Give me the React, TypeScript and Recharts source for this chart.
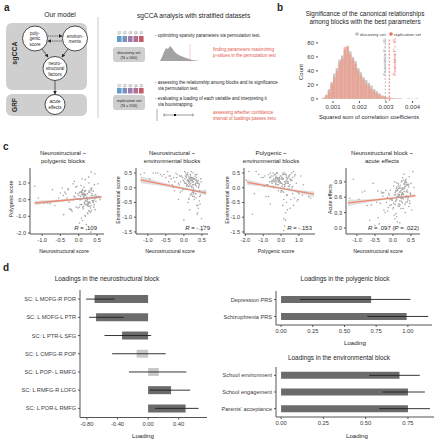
import React from "react";
import {
  Area,
  Bar,
  BarChart,
  Cell,
  ComposedChart,
  ErrorBar,
  Line,
  ReferenceLine,
  Scatter,
  XAxis,
  YAxis,
} from "recharts";

const FONT = "'Liberation Sans', Arial, Helvetica, sans-serif";
const INK = "#262626";
const AXIS = "#555555";
const SALMON = "#f0866b";
const RED_TXT = "#e2584a";
const DARK_BAR = "#6b6b6b";
const LIGHT_BAR = "#c8c8c8";

// ---- b: permutation histogram (bin centres, counts per set)
const binCenters = [
  0.00065, 0.00075, 0.00085, 0.00095, 0.00105, 0.00115, 0.00125, 0.00135, 0.00145, 0.00155,
  0.00165, 0.00175, 0.00185, 0.00195, 0.00205, 0.00215, 0.00225, 0.00235, 0.00245, 0.00255,
  0.00265, 0.00275, 0.00285, 0.00295, 0.00305, 0.00315, 0.00325, 0.00335, 0.00345, 0.00355,
  0.00365, 0.00375, 0.00385, 0.00395, 0.00405, 0.00415,
];
const discoveryCounts = [
  2, 6, 14, 24, 36, 44, 56, 62, 70, 74, 68, 60, 54, 44, 38, 31, 27, 23, 19, 14, 11, 8, 5, 4, 2, 1,
  1, 1, 0, 1, 0, 0, 0, 0, 0, 0,
];
const replicationCounts = [
  1, 5, 11, 21, 31, 40, 52, 58, 74, 76, 64, 57, 50, 41, 34, 28, 22, 19, 14, 11, 8, 6, 4, 3, 2, 2,
  1, 0, 1, 0, 0, 0, 1, 0, 0, 1,
];
const histXTicks = [0.001, 0.002, 0.003, 0.004];
const histYTicks = [0, 20, 40, 60, 80];
const permThresholds = [0.00297, 0.00312];

// ---- c: canonical scores (subsample read from the clouds)
const neuroScore = [
  0.12, 0.25, -0.05, 0.33, 0.41, 0.18, -0.22, 0.05, 0.29, 0.47,
  -0.41, 0.09, 0.22, 0.36, -0.13, 0.02, 0.15, 0.52, -0.65, 0.27,
  0.38, 0.07, -0.3, 0.19, 0.44, 0.31, -0.02, 0.11, -0.85, 0.24,
  0.35, 0.03, 0.49, -0.18, 0.16, 0.28, -0.5, 0.21, 0.4, 0.06,
  0.13, -1.1, 0.34, 0.26, -0.08, 0.55, 0.17, -0.35, 0.1, 0.3,
  0.43, -0.25, 0.2, 0.04, 0.37, -0.72, 0.14, 0.23, 0.46, -0.12,
  0.32, 0.08, -0.95, 0.39, 0.01, 0.27, -0.45, 0.18, 0.5, 0.12,
  -0.6, 0.25, 0.35, -0.15, 0.42, 0.05, 0.21, -1.2, 0.3, 0.16,
  -0.28, 0.45, 0.09, 0.58, -0.38, 0.24, 0.14, -0.78, 0.33, 0.0,
  0.21, 0.08, 0.36, 0.15, 0.27, -0.04, 0.32, 0.19, 0.41, 0.11,
  0.26, -0.1, 0.3, 0.17, 0.06, 0.38, 0.23, -0.2, 0.13, 0.34,
  0.02, 0.28, 0.44, 0.1, -0.07, 0.22, 0.37, 0.15, 0.29, -0.32,
  0.18, 0.4, 0.07, 0.25, -0.15, 0.33, 0.12, 0.48, 0.2, -0.02,
  0.31, 0.16, -0.55, 0.26, 0.09, 0.39, 0.14, 0.35, -0.09, 0.22,
  0.04, 0.43, 0.19, -0.26, 0.28, 0.11, 0.36, 0.24, -0.42, 0.17,
];
const polyScore = [
  0.35, -0.2, 0.8, 0.15, -0.45, 1.2, -0.6, 0.05, 0.55, -0.1,
  -0.9, 0.4, -0.3, 0.7, 0.2, -1.4, 0.1, 0.95, -0.35, -0.65,
  0.25, -1.1, 0.6, -0.05, 1.55, 0.45, -0.5, 0.3, -0.2, -0.8,
  0.65, 0.0, 0.15, -0.7, -0.25, 1.0, 0.4, -1.8, 0.5, 0.85,
  -0.4, 0.1, 1.65, -0.15, 0.75, 0.2, -0.95, 0.35, -1.25, 0.05,
  0.9, -0.55, -0.3, 0.45, -1.6, 0.6, 0.25, -0.1, 0.3, 1.1,
  -0.75, 0.5, -0.2, 0.1, -0.45, 1.35, 0.7, -1.0, 0.15, 0.4,
  -0.05, -0.85, 0.55, 0.95, -0.3, 0.2, -1.5, 0.8, -0.15, 0.35,
  0.65, -0.6, 1.25, 0.0, 0.45, -0.35, 0.75, -0.25, -1.95, 0.25,
  0.1, -0.3, 0.25, -0.15, 0.45, 0.05, -0.5, 0.3, -0.05, 0.6,
  -0.25, 0.15, -0.4, 0.5, 0.0, -0.1, 0.35, -0.6, 0.2, -0.35,
  0.4, -0.2, 0.05, 0.55, -0.45, 0.15, -0.05, 0.3, -0.7, 0.1,
  0.25, -0.15, 0.45, -0.3, 0.0, 0.65, -0.55, 0.2, -0.1, 0.35,
  -0.2, 0.5, 0.1, -0.4, 0.3, -0.05, 0.15, -0.65, 0.4, 0.05,
  -0.3, 0.2, 0.55, -0.15, 0.1, -0.45, 0.35, 0.0, 0.25, -0.25,
];
const envScore = [
  0.2, 0.35, -0.1, 0.45, 0.05, -0.25, 0.5, 0.15, -0.4, 0.3,
  0.4, -0.05, 0.25, -0.6, 0.1, 0.55, 0.3, -0.15, 0.45, 0.2,
  -0.85, 0.35, 0.0, 0.15, -0.3, 0.4, 0.25, -0.5, 0.5, 0.1,
  0.05, 0.3, -1.05, 0.45, 0.2, -0.2, 0.35, 0.55, -0.7, 0.15,
  0.25, 0.5, -0.35, 0.1, 0.4, -1.3, 0.05, 0.3, 0.45, -0.1,
  -0.45, 0.2, 0.35, -0.05, -0.9, 0.5, 0.15, 0.25, -0.25, 0.4,
  0.1, 0.45, 0.3, -0.6, 0.2, -0.15, 0.55, 0.35, -1.45, 0.05,
  0.4, -0.3, 0.25, -0.4, 0.15, 0.5, -0.2, 0.45, 0.3, -0.75,
  0.35, -0.55, 0.1, -0.1, 0.4, 0.2, -0.35, 0.5, 0.25, -1.1,
  0.3, 0.1, 0.45, 0.2, -0.05, 0.35, 0.15, 0.4, 0.0, 0.25,
  0.5, -0.15, 0.3, 0.1, 0.4, 0.2, -0.25, 0.35, 0.05, 0.45,
  0.15, 0.3, -0.1, 0.25, 0.4, 0.0, 0.2, 0.35, -0.3, 0.1,
  0.45, 0.25, 0.05, 0.3, 0.15, -0.2, 0.4, 0.2, 0.35, -0.05,
  0.1, 0.3, 0.45, 0.0, 0.25, 0.15, -0.4, 0.35, 0.2, 0.05,
  0.4, 0.1, 0.25, -0.1, 0.3, 0.5, 0.15, -0.15, 0.2, 0.35,
];
const acuteScore = [
  0.62, 0.78, 0.45, 0.85, 0.55, 0.7, 0.3, 0.9, 0.65, 0.48,
  0.2, 0.72, 0.58, 0.95, 0.4, 0.82, 0.6, 0.35, 0.15, 0.75,
  0.88, 0.52, 0.68, 0.1, 0.42, 1.05, 0.57, 0.8, 0.7, 0.63,
  0.92, 0.25, 0.66, 0.5, 0.77, 0.38, 0.05, 0.6, 0.84, 0.46,
  0.73, 0.95, 0.3, 0.69, 0.55, 1.1, 0.64, 0.48, 0.22, 0.86,
  0.59, 0.35, 0.78, 0.02, 0.71, 0.44, 0.61, 0.9, 0.53, 0.67,
  0.8, 0.28, 0.56, 0.74, 0.4, 0.98, 0.5, 0.65, 0.87, 0.12,
  0.45, 0.76, 0.6, 0.33, 0.83, 0.18, 0.7, 0.58, 0.93, 0.47,
  0.62, 1.0, 0.54, 0.79, 0.08, 0.66, 0.43, 0.72, 0.88, 0.37,
  0.6, 0.72, 0.5, 0.82, 0.66, 0.55, 0.78, 0.45, 0.7, 0.88,
  0.58, 0.64, 0.76, 0.42, 0.69, 0.84, 0.52, 0.73, 0.61, 0.9,
  0.48, 0.67, 0.8, 0.56, 0.74, 0.38, 0.63, 0.86, 0.57, 0.7,
  0.79, 0.51, 0.65, 0.92, 0.6, 0.46, 0.75, 0.68, 0.83, 0.54,
  0.71, 0.62, 0.87, 0.49, 0.77, 0.59, 0.66, 0.81, 0.44, 0.73,
  0.64, 0.85, 0.53, 0.69, 0.78, 0.6, 0.9, 0.57, 0.72, 0.65,
];

// regression fits and confidence bands
const fitX1 = [-1.2, 0.62];
const fitY1 = [-0.2, 0.16];
const bandX1 = [-1.2, -0.3, 0.3, 0.62];
const bandLo1 = [-0.33, -0.08, 0.05, 0.08];
const bandHi1 = [-0.07, 0.04, 0.15, 0.24];

const fitX2 = [-1.2, 0.62];
const fitY2 = [0.27, -0.18];
const bandX2 = [-1.2, -0.3, 0.3, 0.62];
const bandLo2 = [0.15, 0.0, -0.14, -0.26];
const bandHi2 = [0.39, 0.09, -0.06, -0.1];

const fitX3 = [-1.9, 1.85];
const fitY3 = [0.18, -0.22];
const bandX3 = [-1.9, -0.5, 0.5, 1.85];
const bandLo3 = [0.09, -0.01, -0.11, -0.31];
const bandHi3 = [0.27, 0.07, -0.04, -0.13];

const fitX4 = [-1.25, 0.62];
const fitY4 = [0.49, 0.63];
const bandX4 = [-1.25, -0.3, 0.3, 0.62];
const bandLo4 = [0.43, 0.54, 0.59, 0.6];
const bandHi4 = [0.55, 0.58, 0.625, 0.66];

// ---- d: loadings with bootstrap intervals
const neuroNames = [
  "SC: L MOFG-R POR",
  "SC: L MOFG-L PTR",
  "SC: L PTR-L SFG",
  "SC: L CMFG-R POP",
  "SC: L POP- L RMFG",
  "SC: L RMFG-R LOFG",
  "SC: L POR-L RMFG",
];
const neuroLoad = [-0.7, -0.68, -0.34, -0.15, 0.14, 0.3, 0.49];
const neuroLo = [-0.81, -0.77, -0.57, -0.47, -0.25, 0.02, 0.09];
const neuroHi = [-0.44, -0.32, 0.04, 0.23, 0.5, 0.55, 0.66];
const neuroSig = [true, true, true, false, false, true, true];

const polyNames = ["Depression PRS", "Schizophrenia PRS"];
const polyLoad = [0.71, 0.99];
const polyLo = [0.15, 0.68];
const polyHi = [1.02, 1.16];

const envNames = ["School environment", "School engagement", "Parents' acceptance"];
const envLoad = [0.7, 0.75, 0.75];
const envLo = [0.52, 0.6, 0.58];
const envHi = [0.82, 0.85, 0.88];

const qLabels = ["Q1", "Q2", "Q3", "Q4", "Q5"];
const qColors = ["#5f9fc8", "#7f8fbd", "#9b80ad", "#ad6f92", "#c55b69"];

const tickStyle = { fontSize: 5.6, fill: "#3a3a3a", fontFamily: FONT };

type ScatterProps = {
  left: number;
  top: number;
  w: number;
  h: number;
  xDomain: [number, number];
  yDomain: [number, number];
  xTicks: number[];
  yTicks: number[];
  xs: number[];
  ys: number[];
  fitX: number[];
  fitY: number[];
  bandX: number[];
  bandLo: number[];
  bandHi: number[];
};

function ScorePlot(p: ScatterProps) {
  const yw = 16;
  const xh = 12;
  const mt = 2;
  const mr = 3;
  const pts = p.xs.map((x, i) => ({ x, y: p.ys[i] }));
  const fit = p.fitX.map((x, i) => ({ x, fit: p.fitY[i] }));
  const band = p.bandX.map((x, i) => ({ x, band: [p.bandLo[i], p.bandHi[i]] }));
  return (
    <div style={{ position: "absolute", left: p.left - yw, top: p.top - mt }}>
      <ComposedChart
        width={yw + p.w + mr}
        height={mt + p.h + xh}
        margin={{ top: mt, right: mr, bottom: 0, left: 0 }}
      >
        <XAxis
          type="number"
          dataKey="x"
          domain={p.xDomain}
          ticks={p.xTicks}
          allowDataOverflow
          interval={0}
          height={xh}
          tickSize={2}
          stroke={AXIS}
          tick={tickStyle}
          tickFormatter={(v: number) => v.toFixed(1)}
        />
        <YAxis
          type="number"
          dataKey="y"
          domain={p.yDomain}
          ticks={p.yTicks}
          allowDataOverflow
          interval={0}
          width={yw}
          tickSize={2}
          stroke={AXIS}
          tick={tickStyle}
          tickFormatter={(v: number) => v.toFixed(1)}
        />
        <Scatter
          data={pts}
          isAnimationActive={false}
          shape={(s: any) => <circle cx={s.cx} cy={s.cy} r={0.8} fill="#a6a6a6" />}
        />
        <Area
          data={band}
          dataKey="band"
          type="monotone"
          fill="#cccccc"
          fillOpacity={0.6}
          stroke="none"
          isAnimationActive={false}
        />
        <Line
          data={fit}
          dataKey="fit"
          stroke={SALMON}
          strokeWidth={1.3}
          dot={false}
          isAnimationActive={false}
        />
      </ComposedChart>
    </div>
  );
}

type LoadProps = {
  left: number;
  top: number;
  w: number;
  h: number;
  yw: number;
  names: string[];
  load: number[];
  lo: number[];
  hi: number[];
  sig: boolean[];
  xDomain: [number, number];
  xTicks: number[];
  gap: string;
};

// category label without Recharts' word wrapping
function CatTick(props: any) {
  const { x, y, payload } = props;
  return (
    <text
      x={x}
      y={y}
      textAnchor="end"
      dominantBaseline="central"
      fontSize={5.6}
      fill="#3a3a3a"
      fontFamily={FONT}
    >
      {payload.value}
    </text>
  );
}

function LoadingPlot(p: LoadProps) {
  const xh = 11;
  const mt = 2;
  const mr = 3;
  const rows = p.names.map((name, i) => ({
    name,
    value: p.load[i],
    err: [p.load[i] - p.lo[i], p.hi[i] - p.load[i]],
  }));
  return (
    <div style={{ position: "absolute", left: p.left - p.yw, top: p.top - mt }}>
      <BarChart
        layout="vertical"
        data={rows}
        width={p.yw + p.w + mr}
        height={mt + p.h + xh}
        margin={{ top: mt, right: mr, bottom: 0, left: 0 }}
        barCategoryGap={p.gap}
      >
        <XAxis
          type="number"
          domain={p.xDomain}
          ticks={p.xTicks}
          allowDataOverflow
          interval={0}
          height={xh}
          tickSize={2}
          stroke={AXIS}
          tick={{ ...tickStyle, fontSize: 5.8 }}
          tickFormatter={(v: number) => v.toFixed(2)}
        />
        <YAxis
          type="category"
          dataKey="name"
          width={p.yw}
          interval={0}
          tickSize={2}
          stroke={AXIS}
          tick={<CatTick />}
        />
        <Bar dataKey="value" isAnimationActive={false}>
          {rows.map((r, i) => (
            <Cell key={r.name} fill={p.sig[i] ? DARK_BAR : LIGHT_BAR} />
          ))}
          <ErrorBar dataKey="err" direction="x" width={0} stroke="#1f1f1f" strokeWidth={0.9} />
        </Bar>
      </BarChart>
    </div>
  );
}

function Histogram() {
  const yw = 16;
  const xh = 12;
  const mt = 2;
  const mr = 3;
  const left = 318;
  const top = 38;
  const w = 102;
  const h = 63;
  const rows = binCenters.map((x, i) => ({
    x,
    discovery: discoveryCounts[i],
    replication: replicationCounts[i],
  }));
  return (
    <div style={{ position: "absolute", left: left - yw, top: top - mt }}>
      <BarChart
        data={rows}
        width={yw + w + mr}
        height={mt + h + xh}
        margin={{ top: mt, right: mr, bottom: 0, left: 0 }}
        barSize={2.6}
        barGap={-2.6}
      >
        <XAxis
          type="number"
          dataKey="x"
          domain={[0.000434, 0.00428]}
          ticks={histXTicks}
          allowDataOverflow
          interval={0}
          height={xh}
          axisLine={false}
          tickSize={2}
          stroke={AXIS}
          tick={{ ...tickStyle, fontSize: 6 }}
          tickFormatter={(v: number) => v.toFixed(3)}
        />
        <YAxis
          type="number"
          domain={[-3, 87]}
          ticks={histYTicks}
          allowDataOverflow
          interval={0}
          width={yw}
          axisLine={false}
          tickSize={2}
          stroke={AXIS}
          tick={{ ...tickStyle, fontSize: 6 }}
        />
        <Bar dataKey="discovery" fill="#c6c6c6" isAnimationActive={false} />
        <Bar dataKey="replication" fill="#f19a86" fillOpacity={0.72} isAnimationActive={false} />
        <ReferenceLine x={permThresholds[0]} stroke="#a8a8a8" strokeDasharray="2 1.5" strokeWidth={0.8} />
        <ReferenceLine x={permThresholds[1]} stroke={RED_TXT} strokeDasharray="2 1.5" strokeWidth={0.8} />
      </BarChart>
    </div>
  );
}

function Txt(props: {
  x: number;
  y: number;
  s: number;
  children: React.ReactNode;
  anchor?: "start" | "middle" | "end";
  fill?: string;
  bold?: boolean;
  rot?: boolean;
}) {
  const { x, y, s, children, anchor = "middle", fill = INK, bold, rot } = props;
  return (
    <text
      x={x}
      y={y}
      fontSize={s}
      fill={fill}
      fontWeight={bold ? "bold" : "normal"}
      textAnchor={anchor}
      dominantBaseline="central"
      transform={rot ? `rotate(-90 ${x} ${y})` : undefined}
    >
      {children}
    </text>
  );
}

function Overlay() {
  return (
    <svg
      width={439}
      height={440}
      style={{ position: "absolute", left: 0, top: 0, fontFamily: FONT }}
    >
      <defs>
        <marker id="ah" markerWidth={3.5} markerHeight={3.5} refX={3} refY={1.75} orient="auto" markerUnits="userSpaceOnUse">
          <path d="M0,0 L3.5,1.75 L0,3.5 z" fill="#222" />
        </marker>
      </defs>

      {/* panel letters */}
      <Txt x={4} y={7} s={10} bold anchor="start">a</Txt>
      <Txt x={277} y={7} s={10} bold anchor="start">b</Txt>
      <Txt x={3} y={146} s={10} bold anchor="start">c</Txt>
      <Txt x={3} y={267} s={10} bold anchor="start">d</Txt>

      {/* a: model */}
      <Txt x={60} y={14} s={6.8}>Our model</Txt>
      <rect x={6} y={23} width={81} height={67} rx={6} fill="#cfcfcf" />
      <rect x={6} y={94} width={81} height={22} rx={6} fill="#cfcfcf" />
      <Txt x={14} y={53} s={7} bold rot>sgCCA</Txt>
      <Txt x={14} y={105} s={6.5} bold rot>GRF</Txt>
      <circle cx={35} cy={38.5} r={12.5} fill="#fff" stroke="#222" strokeWidth={0.8} />
      <circle cx={75} cy={38.5} r={12.5} fill="#fff" stroke="#222" strokeWidth={0.8} />
      <circle cx={55} cy={68.5} r={12} fill="#fff" stroke="#222" strokeWidth={0.8} />
      <circle cx={55} cy={104.5} r={10} fill="#fff" stroke="#222" strokeWidth={0.8} />
      <Txt x={35} y={33} s={4.5}>poly-</Txt>
      <Txt x={35} y={38.5} s={4.5}>genic</Txt>
      <Txt x={35} y={44} s={4.5}>score</Txt>
      <Txt x={75} y={36} s={4.5}>environ-</Txt>
      <Txt x={75} y={41.5} s={4.5}>ments</Txt>
      <Txt x={55} y={63} s={4.5}>neuro-</Txt>
      <Txt x={55} y={68.5} s={4.5}>structural</Txt>
      <Txt x={55} y={74} s={4.5}>factors</Txt>
      <Txt x={55} y={101.5} s={4.5}>acute</Txt>
      <Txt x={55} y={107} s={4.5}>effects</Txt>
      <line x1={48} y1={36} x2={62} y2={36} stroke="#222" strokeWidth={0.6} strokeDasharray="1.2 0.6" markerEnd="url(#ah)" />
      <line x1={62} y1={41} x2={48} y2={41} stroke="#222" strokeWidth={0.6} strokeDasharray="1.2 0.6" markerEnd="url(#ah)" />
      <line x1={42} y1={49} x2={48} y2={57} stroke="#222" strokeWidth={0.7} markerEnd="url(#ah)" />
      <line x1={68} y1={49} x2={62} y2={57} stroke="#222" strokeWidth={0.7} markerEnd="url(#ah)" />
      <line x1={55} y1={81} x2={55} y2={94} stroke="#222" strokeWidth={0.7} markerEnd="url(#ah)" />
      <line x1={98} y1={17} x2={98} y2={118} stroke="#bdbdbd" strokeWidth={0.8} />

      {/* a: workflow */}
      <Txt x={137} y={15} s={6.6} anchor="start">sgCCA analysis with stratified datasets</Txt>
      {qLabels.map((q, i) => (
        <g key={"d" + q}>
          <Txt x={119.3 + i * 5.5} y={33.5} s={2.6} fill="#555">{q}</Txt>
          <rect x={117 + i * 5.5} y={36} width={4.6} height={6} fill={qColors[i]} />
          <Txt x={119.3 + i * 5.5} y={86} s={2.6} fill="#555">{q}</Txt>
          <rect x={117 + i * 5.5} y={88} width={4.6} height={5.5} fill={qColors[i]} />
        </g>
      ))}
      <rect x={113} y={47} width={32} height={15} rx={3} fill="#cfcfcf" />
      <Txt x={129} y={52} s={4}>discovery set</Txt>
      <Txt x={129} y={57.5} s={4}>(N = 560)</Txt>
      <rect x={113} y={95} width={32} height={15} rx={3} fill="#cfcfcf" />
      <Txt x={129} y={100} s={4}>replication set</Txt>
      <Txt x={129} y={105.5} s={4}>(N = 556)</Txt>

      <Txt x={155} y={35} s={4.5} anchor="start">- optimizing sparsity parameters via permutation test.</Txt>
      <path d="M160,61 L162,57 L164,52 L166,48 L168,49 L170,46 L172,48 L174,51 L177,54 L181,56 L186,58 L192,60 L200,61 Z" fill="#a3a3a3" />
      <line x1={190} y1={44} x2={190} y2={62} stroke={RED_TXT} strokeWidth={0.5} strokeDasharray="1 0.8" />
      <Txt x={213} y={49} s={4.5} anchor="start" fill={RED_TXT}>finding parameters maximizing</Txt>
      <Txt x={213} y={55} s={4.5} anchor="start" fill={RED_TXT}>p-values in the permutation test</Txt>
      <Txt x={155} y={82} s={4.5} anchor="start">- assessing the relationship among blocks and its significance</Txt>
      <Txt x={158} y={88} s={4.5} anchor="start">via permutation test.</Txt>
      <Txt x={155} y={98} s={4.5} anchor="start">- evaluating a loading of each variable and interpreting it</Txt>
      <Txt x={158} y={104} s={4.5} anchor="start">via bootstrapping.</Txt>
      <rect x={156} y={109} width={2} height={12} fill="#d5d5d5" />
      <line x1={164} y1={115} x2={193} y2={115} stroke="#333" strokeWidth={0.5} />
      <line x1={164} y1={113.5} x2={164} y2={116.5} stroke="#333" strokeWidth={0.5} />
      <line x1={193} y1={113.5} x2={193} y2={116.5} stroke="#333" strokeWidth={0.5} />
      <rect x={174} y={114} width={2} height={2} fill="#111" />
      <Txt x={213} y={112} s={4.5} anchor="start" fill={RED_TXT}>assessing whether confidence</Txt>
      <Txt x={213} y={118} s={4.5} anchor="start" fill={RED_TXT}>interval of loadings passes zero</Txt>

      {/* b */}
      <Txt x={365} y={13.5} s={6.4}>Significance of the canonical relationships</Txt>
      <Txt x={365} y={21.8} s={6.4}>among blocks with the best parameters</Txt>
      <circle cx={357} cy={34} r={1.8} fill="#bdbdbd" />
      <Txt x={360} y={34} s={4.4} anchor="start" fill="#444">discovery set</Txt>
      <circle cx={391} cy={34} r={1.8} fill="#ee6f5a" />
      <Txt x={394} y={34} s={4.4} anchor="start" fill="#444">replication set</Txt>
      <Txt x={301} y={72} s={6} rot>Count</Txt>
      <Txt x={369} y={117} s={5.8}>Squared sum of correlation coefficients</Txt>
      <Txt x={384.5} y={57} s={4.2} rot fill="#9a9a9a">Permutation P = .05</Txt>
      <Txt x={394.5} y={57} s={4.2} rot fill={RED_TXT}>Permutation P = .05</Txt>

      {/* c titles */}
      <Txt x={63} y={152.5} s={6}>Neurostructural ~</Txt>
      <Txt x={63} y={160.7} s={6}>polygenic blocks</Txt>
      <Txt x={172} y={152.5} s={6}>Neurostructural ~</Txt>
      <Txt x={172} y={160.7} s={6}>environmental blocks</Txt>
      <Txt x={271} y={152.5} s={6}>Polygenic ~</Txt>
      <Txt x={271} y={160.7} s={6}>environmental blocks</Txt>
      <Txt x={382} y={152.5} s={6}>Neurostructural block ~</Txt>
      <Txt x={382} y={160.7} s={6}>acute effects</Txt>

      <Txt x={11} y={199} s={5.2} rot>Polygenic score</Txt>
      <Txt x={118} y={200} s={5.2} rot>Environmental score</Txt>
      <Txt x={227} y={200} s={5.2} rot>Environmental score</Txt>
      <Txt x={330} y={199} s={5.2} rot>Acute effects</Txt>
      <Txt x={64} y={251} s={5.2}>Neurostructural score</Txt>
      <Txt x={170} y={251} s={5.2}>Neurostructural score</Txt>
      <Txt x={276} y={251} s={5.2}>Polygenic score</Txt>
      <Txt x={378} y={251} s={5.2}>Neurostructural score</Txt>

      <text x={97} y={227.5} fontSize={6} fill={INK} textAnchor="end" dominantBaseline="central">
        <tspan fontStyle="italic">R</tspan> = .109
      </text>
      <text x={210} y={227.5} fontSize={6} fill={INK} textAnchor="end" dominantBaseline="central">
        <tspan fontStyle="italic">R</tspan> = -.179
      </text>
      <text x={312} y={227.5} fontSize={6} fill={INK} textAnchor="end" dominantBaseline="central">
        <tspan fontStyle="italic">R</tspan> = -.153
      </text>
      <text x={419} y={228} fontSize={6} fill={INK} textAnchor="end" dominantBaseline="central">
        <tspan fontStyle="italic">R</tspan> = .097 (<tspan fontStyle="italic">P</tspan> = .022)
      </text>

      {/* d titles */}
      <Txt x={107} y={278} s={6.4}>Loadings in the neurostructural block</Txt>
      <Txt x={345} y={278} s={6.4}>Loadings in the polygenic block</Txt>
      <Txt x={339} y={357} s={6.4}>Loadings in the environmental block</Txt>
      <Txt x={143} y={435} s={6.2}>Loading</Txt>
      <Txt x={355} y={342} s={6.2}>Loading</Txt>
      <Txt x={357} y={435.5} s={6.2}>Loading</Txt>
    </svg>
  );
}

export default function App() {
  return (
    <div
      style={{
        position: "absolute",
        left: 0,
        top: 0,
        width: 439,
        height: 440,
        background: "#fff",
        overflow: "hidden",
        fontFamily: FONT,
      }}
    >
      <Overlay />
      <Histogram />

      <ScorePlot
        left={30} top={168} w={74} h={66}
        xDomain={[-1.33, 0.69]} yDomain={[-2.06, 1.9]}
        xTicks={[-1, -0.5, 0, 0.5]} yTicks={[-2, -1, 0, 1]}
        xs={neuroScore} ys={polyScore}
        fitX={fitX1} fitY={fitY1} bandX={bandX1} bandLo={bandLo1} bandHi={bandHi1}
      />
      <ScorePlot
        left={136} top={168} w={72} h={66}
        xDomain={[-1.33, 0.67]} yDomain={[-1.57, 0.67]}
        xTicks={[-1, -0.5, 0, 0.5]} yTicks={[-1.5, -1, -0.5, 0, 0.5]}
        xs={neuroScore} ys={envScore}
        fitX={fitX2} fitY={fitY2} bandX={bandX2} bandLo={bandLo2} bandHi={bandHi2}
      />
      <ScorePlot
        left={244} top={168} w={71} h={66}
        xDomain={[-2.08, 1.9]} yDomain={[-1.57, 0.67]}
        xTicks={[-2, -1, 0, 1]} yTicks={[-1.5, -1, -0.5, 0, 0.5]}
        xs={polyScore} ys={envScore}
        fitX={fitX3} fitY={fitY3} bandX={bandX3} bandLo={bandLo3} bandHi={bandHi3}
      />
      <ScorePlot
        left={346} top={168} w={74} h={66}
        xDomain={[-1.305, 0.75]} yDomain={[-0.117, 1.17]}
        xTicks={[-1, -0.5, 0, 0.5]} yTicks={[0, 0.3, 0.6, 0.9]}
        xs={neuroScore} ys={acuteScore}
        fitX={fitX4} fitY={fitY4} bandX={bandX4} bandLo={bandLo4} bandHi={bandHi4}
      />

      <LoadingPlot
        left={80} top={289.5} w={127} h={127.5} yw={70}
        names={neuroNames} load={neuroLoad} lo={neuroLo} hi={neuroHi} sig={neuroSig}
        xDomain={[-0.89, 0.77]} xTicks={[-0.8, -0.4, 0, 0.4]} gap="28%"
      />
      <LoadingPlot
        left={276} top={290.5} w={156} h={34} yw={66}
        names={polyNames} load={polyLoad} lo={polyLo} hi={polyHi} sig={[true, true]}
        xDomain={[-0.04, 1.19]} xTicks={[0, 0.25, 0.5, 0.75, 1]} gap="29%"
      />
      <LoadingPlot
        left={276} top={367} w={158} h={50} yw={66}
        names={envNames} load={envLoad} lo={envLo} hi={envHi} sig={[true, true, true]}
        xDomain={[-0.03, 0.904]} xTicks={[0, 0.25, 0.5, 0.75]} gap="29%"
      />
    </div>
  );
}
